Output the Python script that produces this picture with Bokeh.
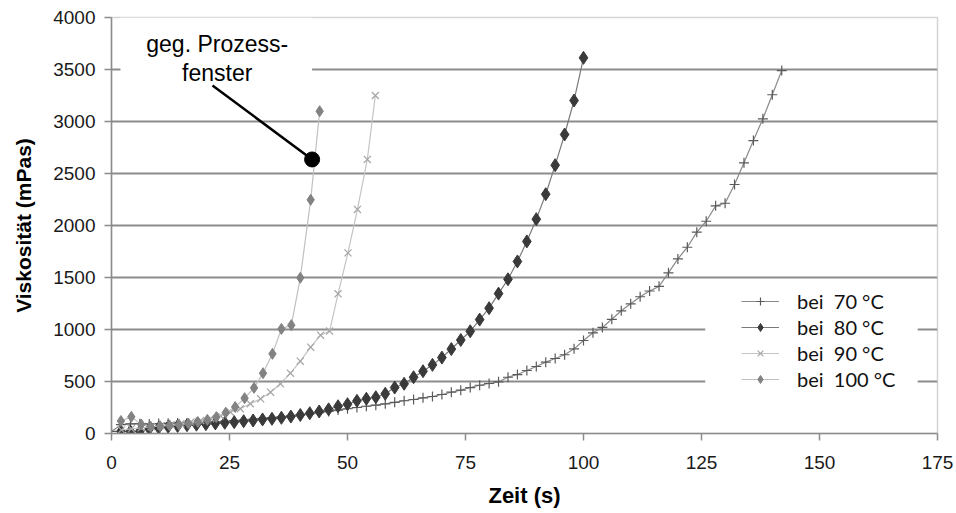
from bokeh.plotting import figure
from bokeh.models import Range1d, FixedTicker, Legend, LegendItem
from bokeh.embed import file_html
from bokeh.resources import INLINE
from bokeh.core.properties import value

# ---------------- data ----------------
t70 = [0, 2, 4, 6, 8, 10, 12, 14, 16, 18, 20, 22, 24, 26, 28, 30, 32, 34, 36, 38,
       40, 42, 44, 46, 48, 50, 52, 54, 56, 58, 60, 62, 64, 66, 68, 70, 72, 74, 76, 78,
       80, 82, 84, 86, 88, 90, 92, 94, 96, 98, 100, 102, 104, 106, 108, 110, 112, 114,
       116, 118, 120, 122, 124, 126, 128, 130, 132, 134, 136, 138, 140, 142]
v70 = [20, 85, 92, 94, 92, 95, 98, 100, 102, 105, 108, 112, 118, 124, 130, 137, 145, 152,
       160, 170, 180, 190, 200, 212, 225, 238, 250, 262, 272, 285, 300, 315, 327, 343, 356,
       375, 397, 417, 442, 464, 481, 497, 541, 567, 606, 644, 686, 721, 757, 814, 894, 968,
       1020, 1098, 1180, 1247, 1315, 1370, 1415, 1545, 1679, 1791, 1936, 2041, 2189, 2214,
       2394, 2603, 2817, 3026, 3257, 3490]

t80 = [2, 4, 6, 8, 10, 12, 14, 16, 18, 20, 22, 24, 26, 28, 30, 32, 34, 36, 38, 40,
       42, 44, 46, 48, 50, 52, 54, 56, 58, 60, 62, 64, 66, 68, 70, 72, 74, 76, 78, 80,
       82, 84, 86, 88, 90, 92, 94, 96, 98, 100]
v80 = [20, 20, 20, 45, 55, 65, 72, 80, 85, 90, 97, 103, 109, 118, 125, 135, 141, 151, 163,
       178, 195, 212, 232, 262, 282, 314, 334, 349, 382, 442, 478, 541, 599, 660, 730, 812,
       899, 983, 1095, 1205, 1345, 1483, 1654, 1847, 2061, 2301, 2580, 2875, 3202, 3612]

t90 = [2.1, 4.2, 6.3, 8.4, 10.5, 12.6, 14.7, 16.8, 18.9, 21.0, 23.1, 25.2, 27.3, 29.4,
       31.6, 33.7, 35.8, 37.9, 40.0, 42.2, 44.3, 46.2, 48.0, 50.1, 52.1, 54.2, 55.9]
v90 = [35, 45, 55, 65, 75, 85, 95, 110, 125, 145, 170, 205, 238, 286, 334, 397, 478, 580,
       695, 830, 945, 985, 1343, 1737, 2154, 2635, 3250]

t100 = [2.0, 4.2, 6.3, 8.3, 10.3, 12.3, 14.3, 16.3, 18.3, 20.3, 22.2, 24.2, 26.2, 28.2,
        30.2, 32.1, 34.1, 36.0, 38.1, 40.0, 42.2, 44.1]
v100 = [120, 160, 87, 65, 70, 78, 85, 95, 110, 131, 157, 200, 255, 340, 439, 580, 766,
        1006, 1042, 1497, 2247, 3099]

# second blank is a no-break space so the double gap survives SVG rendering
labels = ["bei \u00a070 °C", "bei \u00a080 °C", "bei \u00a090 °C", "bei \u00a0100 °C"]
x_ticks = [0, 25, 50, 75, 100, 125, 150, 175]
y_ticks = [0, 500, 1000, 1500, 2000, 2500, 3000, 3500, 4000]
grid_ticks = [500, 1000, 1500, 2000, 2500, 3000, 3500]

callout_lines = ["geg. Prozess-", "fenster"]
callout_text_x = [22.4, 22.4]
callout_text_y = [3745, 3470]
callout_from = (21.4, 3346)
callout_to = (42.5, 2635)

# white panels behind callout text and legend (data units)
panel_left = [1.9, 125.8]
panel_right = [42.5, 170.8]
panel_bottom = [3100, 317]
panel_top = [4000, 1442]

# ---------------- figure ----------------
p = figure(width=956, height=513, output_backend="svg", toolbar_location=None,
           x_range=Range1d(0, 175), y_range=Range1d(0, 4000),
           min_border_left=111, min_border_right=19, min_border_top=17, min_border_bottom=80)
p.background_fill_color = "white"
p.border_fill_color = "white"
p.outline_line_color = "#d4d4d4"
p.outline_line_width = 1.5

p.xgrid.visible = False
p.ygrid.ticker = FixedTicker(ticks=grid_ticks)
p.ygrid.grid_line_color = "#8c8c8c"
p.ygrid.grid_line_width = 2

p.xaxis.ticker = FixedTicker(ticks=x_ticks)
p.yaxis.ticker = FixedTicker(ticks=y_ticks)
for ax in (p.xaxis[0], p.yaxis[0]):
    ax.axis_line_color = "#8c8c8c"
    ax.axis_line_width = 1.5
    ax.major_tick_line_color = "#8c8c8c"
    ax.major_tick_line_width = 1.5
    ax.major_tick_out = 7
    ax.major_tick_in = 0
    ax.minor_tick_line_color = None
    ax.major_label_text_font = "Liberation Sans"
    ax.major_label_text_font_size = "19px"
    ax.major_label_text_color = "#1a1a1a"
    ax.axis_label_text_font = "Liberation Sans"
    ax.axis_label_text_font_style = "bold"
    ax.axis_label_text_color = "#000000"

p.xaxis.axis_label = "Zeit (s)"
p.yaxis.axis_label = "Viskosität (mPas)"
p.xaxis.axis_label_text_font_size = "22px"
p.yaxis.axis_label_text_font_size = "21px"
p.xaxis.major_label_standoff = 15
p.yaxis.major_label_standoff = 9
p.xaxis.axis_label_standoff = 11
p.yaxis.axis_label_standoff = 15

# white panels
p.quad(left=panel_left, right=panel_right, bottom=panel_bottom, top=panel_top,
       fill_color="white", line_color=None)

# series
l70 = p.line(t70, v70, line_color="#8a8a8a", line_width=1.2)
s70 = p.scatter(t70, v70, marker="cross", size=10, line_color="#5a5a5a", line_width=1.2)
l80 = p.line(t80, v80, line_color="#7a7a7a", line_width=1.2)
s80 = p.scatter(t80, v80, marker="diamond", size=13, fill_color="#3a3a3a", line_color="#3a3a3a")
l90 = p.line(t90, v90, line_color="#c4c4c4", line_width=1.2)
s90 = p.scatter(t90, v90, marker="x", size=10, line_color="#a5a5a5", line_width=1.2)
l100 = p.line(t100, v100, line_color="#c0c0c0", line_width=1.2)
s100 = p.scatter(t100, v100, marker="diamond", size=11, fill_color="#828282", line_color="#828282")

# callout
p.segment(x0=[callout_from[0]], y0=[callout_from[1]], x1=[callout_to[0]], y1=[callout_to[1]],
          line_color="black", line_width=2.5)
p.scatter([callout_to[0]], [callout_to[1]], marker="circle", size=15,
          fill_color="black", line_color="black")
p.text(x=callout_text_x, y=callout_text_y, text=callout_lines,
       text_font=value("Liberation Sans"), text_font_size="23px",
       text_align="center", text_baseline="middle", text_color="#000000")

legend = Legend(items=[LegendItem(label=labels[0], renderers=[l70, s70]),
                       LegendItem(label=labels[1], renderers=[l80, s80]),
                       LegendItem(label=labels[2], renderers=[l90, s90]),
                       LegendItem(label=labels[3], renderers=[l100, s100])],
                location=(630, 42), orientation="vertical")
legend.background_fill_alpha = 0
legend.border_line_color = None
legend.padding = 8
legend.margin = 0
legend.spacing = 2
legend.glyph_width = 38
legend.glyph_height = 20
legend.label_height = 20
legend.label_standoff = 18
legend.label_text_font = "Lato"
legend.label_text_font_size = "20px"
legend.label_text_color = "#111111"
p.add_layout(legend)

open("out.html", "w").write(file_html(p, INLINE))
